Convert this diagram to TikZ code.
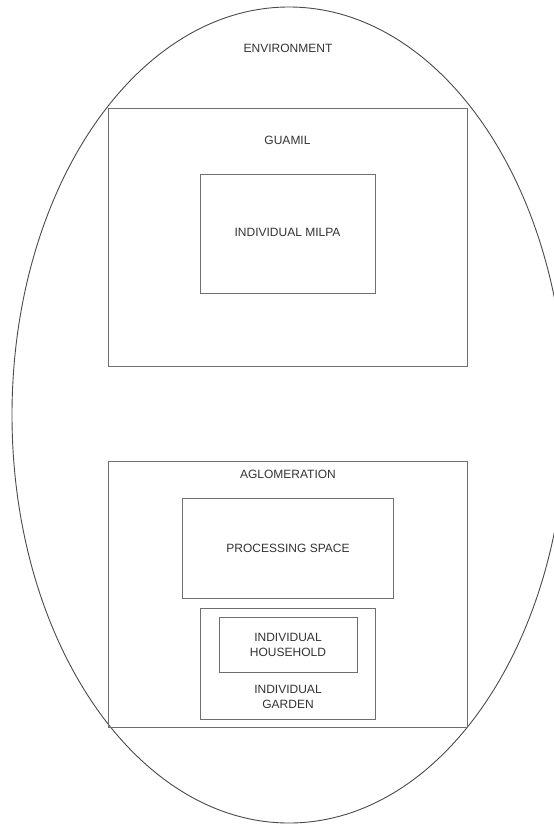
\documentclass[tikz,border=0pt]{standalone}
\usepackage{fontspec}
\setmainfont{Liberation Sans}
\usetikzlibrary{shapes.geometric}
\definecolor{linegray}{HTML}{6E6E6E}
\definecolor{rimgray}{HTML}{4A4A4A}
\definecolor{textgray}{HTML}{333333}
\begin{document}
\begin{tikzpicture}
[x=1pt,y=-1pt,
  rimdecorate/.style={shape=ellipse,draw=rimgray,line width=0.9pt,inner sep=0pt,outer sep=0pt},%
  boxdecorate/.style={shape=rectangle,draw=linegray,line width=0.9pt,inner sep=0pt,outer sep=0pt},%
  textdecorate/.style={text=textgray,align=center,inner sep=0pt,font=\fontsize{12}{15}\selectfont}]
\useasboundingbox (0,0) rectangle (554,825);
\clip (0,0) rectangle (554,825);
%% outer area
\node (environment) at (289,415) [rimdecorate,minimum width=554pt,minimum height=816pt] {};
%% boxes
\foreach \nodename/\x/\y/\w/\h in {guamil/287.5/237.5/359/258, milpa/287.5/233.5/175/119,
  aglomeration/287.5/594/359/266, processing/287.5/548/211/100,
  garden/287.5/663.5/175/111, household/288/644.5/138/55} {
  \node (\nodename) at (\x,\y) [boxdecorate,minimum width=\w pt,minimum height=\h pt] {};
}
%% texts
\foreach \nodename/\x/\y/\txt in {environmenttext/288/48/ENVIRONMENT, guamiltext/287.5/140/GUAMIL,
  milpatext/287.5/232/{INDIVIDUAL MILPA}, aglomerationtext/288/474/AGLOMERATION,
  processingtext/288/548/{PROCESSING SPACE}, householdtext/288/644.5/{INDIVIDUAL\\HOUSEHOLD},
  gardentext/288/697/{INDIVIDUAL\\GARDEN}} {
  \node (\nodename) at (\x,\y) [textdecorate] {\txt};
}
\end{tikzpicture}
\end{document}
